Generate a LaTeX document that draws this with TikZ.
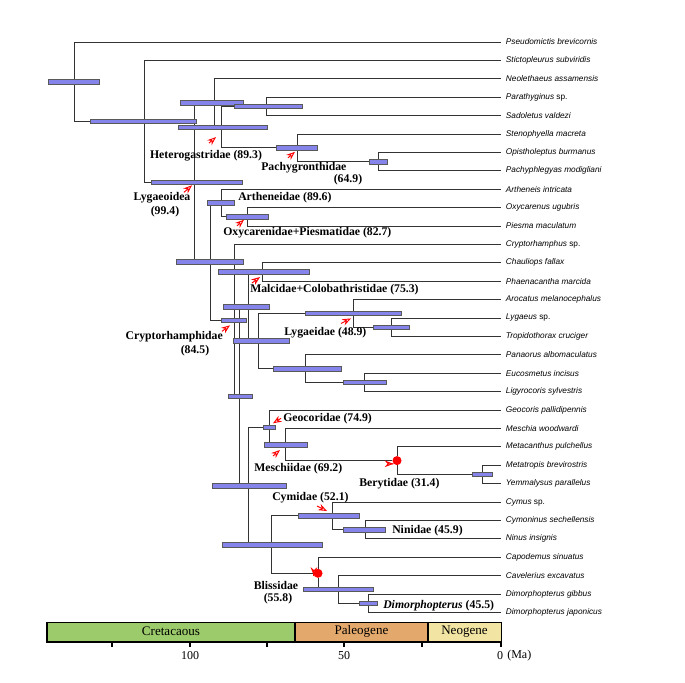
\documentclass[tikz,border=0pt]{standalone}
\usepackage{fontspec}
\setmainfont{Liberation Serif}
\setsansfont{Liberation Sans}
\usetikzlibrary{arrows.meta}

\definecolor{hpdblue}{RGB}{132,132,235}
\definecolor{cretgreen}{RGB}{155,203,106}
\definecolor{paleoorange}{RGB}{227,168,108}
\definecolor{neoyellow}{RGB}{242,229,163}

\tikzset{
  branch/.style={draw=black!80, line width=0.6pt},
  hpd/.style={fill=hpdblue, draw=black!65, line width=0.4pt},
  taxon/.style={anchor=west, inner xsep=3.5pt, inner ysep=0pt, font=\sffamily\itshape\fontsize{6.2}{7}\selectfont},
  clade/.style={inner sep=0pt, font=\bfseries\fontsize{8.8}{10}\selectfont},
  hmark/.style={red, line width=0.7pt, -{Stealth[open, length=6.5pt, width=5pt]}},
  reddot/.style={circle, fill=red, inner sep=0pt, minimum size=6.8pt},
  period/.style={draw=black, line width=0.6pt},
}
\newcommand{\hpdbar}[3]{\draw[hpd] (#1,#3-2.3) rectangle (#2,#3+2.3);}

\begin{document}
\begin{tikzpicture}[x=0.75pt, y=-0.75pt]
\useasboundingbox (0,0) rectangle (685,682);

\node [taxon] (pse) at (501,42) {Pseudomictis brevicornis};
\node [taxon] (sti) at (501,60.4) {Stictopleurus subviridis};
\node [taxon] (neo) at (501,78.8) {Neolethaeus assamensis};
\node [taxon] (par) at (501,97.2) {Parathyginus \upshape sp.};
\node [taxon] (sad) at (501,115.6) {Sadoletus valdezi};
\node [taxon] (ste) at (501,134) {Stenophyella macreta};
\node [taxon] (opi) at (501,152.4) {Opistholeptus burmanus};
\node [taxon] (pac) at (501,170.8) {Pachyphlegyas modigliani};
\node [taxon] (art) at (501,189.2) {Artheneis intricata};
\node [taxon] (oxy) at (501,207.6) {Oxycarenus ugubris};
\node [taxon] (pie) at (501,226) {Piesma maculatum};
\node [taxon] (cry) at (501,244.4) {Cryptorhamphus \upshape sp.};
\node [taxon] (cha) at (501,262.8) {Chauliops fallax};
\node [taxon] (pha) at (501,281.2) {Phaenacantha marcida};
\node [taxon] (aro) at (501,299.6) {Arocatus melanocephalus};
\node [taxon] (lyg) at (501,318) {Lygaeus \upshape sp.};
\node [taxon] (tro) at (501,336.4) {Tropidothorax cruciger};
\node [taxon] (pan) at (501,354.8) {Panaorus albomaculatus};
\node [taxon] (euc) at (501,373.2) {Eucosmetus incisus};
\node [taxon] (lig) at (501,391.6) {Ligyrocoris sylvestris};
\node [taxon] (geo) at (501,410) {Geocoris pallidipennis};
\node [taxon] (mes) at (501,428.4) {Meschia woodwardi};
\node [taxon] (met) at (501,446.8) {Metacanthus pulchellus};
\node [taxon] (mtr) at (501,465.2) {Metatropis brevirostris};
\node [taxon] (yem) at (501,483.6) {Yemmalysus parallelus};
\node [taxon] (cym) at (501,502) {Cymus \upshape sp.};
\node [taxon] (cyn) at (501,520.4) {Cymoninus sechellensis};
\node [taxon] (nin) at (501,538.8) {Ninus insignis};
\node [taxon] (cap) at (501,557.2) {Capodemus sinuatus};
\node [taxon] (cav) at (501,575.6) {Cavelerius excavatus};
\node [taxon] (dgi) at (501,594) {Dimorphopterus gibbus};
\node [taxon] (dja) at (501,612.4) {Dimorphopterus japonicus};

\coordinate (root) at (74,81.7);
\coordinate (n1) at (144,121.4);
\coordinate (lygaeoidea) at (194,182.3);
\coordinate (n2) at (214,103);
\coordinate (hetero) at (221,127.1);
\coordinate (n3) at (266,106.4);
\coordinate (pachy) at (297,147.8);
\coordinate (n4) at (378,161.6);
\coordinate (n5) at (210,261.7);
\coordinate (arthen) at (221,203);
\coordinate (oxypie) at (247,216.8);
\coordinate (crypto) at (234,320.3);
\coordinate (n6) at (239,396.2);
\coordinate (n7) at (248,306.5);
\coordinate (malcol) at (262,272);
\coordinate (n8) at (258,341);
\coordinate (lygae) at (353,313.4);
\coordinate (n9) at (391,327.2);
\coordinate (n10) at (305,368.6);
\coordinate (n11) at (364,382.4);
\coordinate (n12) at (248,486);
\coordinate (geocor) at (269,427.3);
\coordinate (meschi) at (285,444.5);
\coordinate (n13) at (482,474.4);
\coordinate (n14) at (271,544.6);
\coordinate (cymid) at (332,515.8);
\coordinate (ninid) at (365,529.6);
\coordinate (n15) at (338,589.4);
\coordinate (dimor) at (368,603.2);

\node [reddot] (beryt) at (397,460.6) {};
\node [reddot] (bliss) at (318,573.3) {};

\begin{scope}[branch]
\draw (root) |- (pse.west);
\draw (root) |- (n1);
\draw (n1) |- (sti.west);
\draw (n1) |- (lygaeoidea);
\draw (lygaeoidea) |- (n2);
\draw (lygaeoidea) |- (n5);
\draw (n2) |- (neo.west);
\draw (n2) |- (hetero);
\draw (hetero) |- (n3);
\draw (hetero) |- (pachy);
\draw (n3) |- (par.west);
\draw (n3) |- (sad.west);
\draw (pachy) |- (ste.west);
\draw (pachy) |- (n4);
\draw (n4) |- (opi.west);
\draw (n4) |- (pac.west);
\draw (n5) |- (arthen);
\draw (n5) |- (crypto);
\draw (arthen) |- (art.west);
\draw (arthen) |- (oxypie);
\draw (oxypie) |- (oxy.west);
\draw (oxypie) |- (pie.west);
\draw (crypto) |- (cry.west);
\draw (crypto) |- (n6);
\draw (n6) |- (n7);
\draw (n6) |- (n12);
\draw (n7) |- (malcol);
\draw (n7) |- (n8);
\draw (malcol) |- (cha.west);
\draw (malcol) |- (pha.west);
\draw (n8) |- (lygae);
\draw (n8) |- (n10);
\draw (lygae) |- (aro.west);
\draw (lygae) |- (n9);
\draw (n9) |- (lyg.west);
\draw (n9) |- (tro.west);
\draw (n10) |- (pan.west);
\draw (n10) |- (n11);
\draw (n11) |- (euc.west);
\draw (n11) |- (lig.west);
\draw (n12) |- (geocor);
\draw (n12) |- (n14);
\draw (geocor) |- (geo.west);
\draw (geocor) |- (meschi);
\draw (meschi) |- (mes.west);
\draw (meschi) |- (beryt);
\draw (beryt) |- (met.west);
\draw (beryt) |- (n13);
\draw (n13) |- (mtr.west);
\draw (n13) |- (yem.west);
\draw (n14) |- (cymid);
\draw (n14) |- (bliss);
\draw (cymid) |- (cym.west);
\draw (cymid) |- (ninid);
\draw (ninid) |- (cyn.west);
\draw (ninid) |- (nin.west);
\draw (bliss) |- (cap.west);
\draw (bliss) |- (n15);
\draw (n15) |- (cav.west);
\draw (n15) |- (dimor);
\draw (dimor) |- (dgi.west);
\draw (dimor) |- (dja.west);
\end{scope}

\hpdbar{48}{99}{81.7}
\hpdbar{90}{196}{121.4}
\hpdbar{151}{242}{182.3}
\hpdbar{180}{243}{103}
\hpdbar{178}{267}{127.1}
\hpdbar{234}{302}{106.4}
\hpdbar{276}{317}{147.8}
\hpdbar{369}{387}{161.6}
\hpdbar{176}{243}{261.7}
\hpdbar{207}{234}{203}
\hpdbar{226}{268}{216.8}
\hpdbar{221}{246}{320.3}
\hpdbar{228}{252}{396.2}
\hpdbar{223}{269}{306.5}
\hpdbar{218}{309}{272}
\hpdbar{233}{289}{341}
\hpdbar{305}{401}{313.4}
\hpdbar{373}{409}{327.2}
\hpdbar{273}{341}{368.6}
\hpdbar{343}{386}{382.4}
\hpdbar{212}{286}{486}
\hpdbar{263}{275}{427.3}
\hpdbar{264}{307}{444.5}
\hpdbar{472}{492}{474.4}
\hpdbar{222}{322}{544.6}
\hpdbar{298}{359}{515.8}
\hpdbar{343}{385}{529.6}
\hpdbar{303}{373}{589.4}
\hpdbar{359}{377}{603.2}

\draw [hmark] ([shift={(-12,16)}]hetero) -- ([shift={(-5,10)}]hetero);
\draw [hmark] ([shift={(-9,10)}]pachy) -- ([shift={(-2,4)}]pachy);
\draw [hmark] ([shift={(-10,10)}]lygaeoidea) -- ([shift={(-2,3)}]lygaeoidea);
\draw [hmark] ([shift={(-10,9)}]oxypie) -- ([shift={(-3,3)}]oxypie);
\draw [hmark] ([shift={(-10,11)}]malcol) -- ([shift={(-2,5)}]malcol);
\draw [hmark] ([shift={(-12,11)}]crypto) -- ([shift={(-4,5)}]crypto);
\draw [hmark] ([shift={(-12,10)}]lygae) -- ([shift={(-2,5)}]lygae);
\draw [hmark] ([shift={(12,-9)}]geocor) -- ([shift={(4,-4)}]geocor);
\draw [hmark] ([shift={(-12,11.5)}]meschi) -- ([shift={(-5,5.5)}]meschi);
\draw [hmark] ([shift={(-14,12.5)}]beryt) -- ([shift={(-7,6.5)}]beryt);
\draw [hmark] ([shift={(-15,-9.8)}]cymid) -- ([shift={(-5,-4.8)}]cymid);
\draw [hmark] ([shift={(-17,10.7)}]bliss) -- ([shift={(-8,5.7)}]bliss);

\node [clade] (lblhetero) at (206,156) {Heterogastridae (89.3)};
\node [clade, anchor=west] (lblpachy) at (261,168) {Pachygronthidae};
\node [clade] (agepachy) at (348,179.5) {(64.9)};
\node [clade] (lbllygaeo) at (162,198) {Lygaeoidea};
\node [clade] (agelygaeo) at (165,212) {(99.4)};
\node [clade, anchor=west] (lblarthen) at (238,198) {Artheneidae (89.6)};
\node [clade, anchor=west] (lbloxypie) at (223,233) {Oxycarenidae+Piesmatidae (82.7)};
\node [clade, anchor=west] (lblmalcol) at (250,290) {Malcidae+Colobathristidae (75.3)};
\node [clade, anchor=east] (lblcrypto) at (223,337) {Cryptorhamphidae};
\node [clade] (agecrypto) at (195,351) {(84.5)};
\node [clade, anchor=west] (lbllygae) at (284,333) {Lygaeidae (48.9)};
\node [clade, anchor=west] (lblgeocor) at (283,419) {Geocoridae (74.9)};
\node [clade, anchor=west] (lblmeschi) at (254,469) {Meschiidae (69.2)};
\node [clade, anchor=west] (lblberyt) at (359,484) {Berytidae (31.4)};
\node [clade, anchor=west] (lblcymid) at (272,498) {Cymidae (52.1)};
\node [clade, anchor=west] (lblninid) at (392,531) {Ninidae (45.9)};
\node [clade] (lblbliss) at (276,585) {Blissidae};
\node [clade] (agebliss) at (278,598.5) {(55.8)};
\node [clade, anchor=west] (lbldimor) at (383,606) {\textit{Dimorphopterus} (45.5)};

\draw [period, fill=cretgreen] (47,622) rectangle (295,641) node [midway, font=\fontsize{9.8}{11}\selectfont] (cret) {Cretacaous};
\draw [period, fill=paleoorange] (295,622) rectangle (428,641) node [midway, font=\fontsize{9.8}{11}\selectfont] (paleo) {Paleogene};
\draw [period, fill=neoyellow] (428,622) rectangle (501,641) node [midway, font=\fontsize{9.8}{11}\selectfont] (neog) {Neogene};
\draw [line width=1.4pt] (47,622) -- (47,642);
\draw [line width=1.4pt] (295,622) -- (295,641);
\draw [line width=1.4pt] (428,622) -- (428,641);
\draw [line width=1.8pt] (46,642) -- (502,642);
\draw [line width=1.4pt] (112,642) -- (112,647) (190,642) -- (190,647) (267,642) -- (267,647)
  (344,642) -- (344,647) (422,642) -- (422,647) (501,642) -- (501,647);
\node [font=\fontsize{9}{10}\selectfont] (t100) at (190,656) {100};
\node [font=\fontsize{9}{10}\selectfont] (t50) at (344,656) {50};
\node [font=\fontsize{9}{10}\selectfont] (t0) at (500,656) {0};
\node [anchor=west, inner sep=0pt, font=\fontsize{9}{10}\selectfont] (ma) at (507,656) {(Ma)};
\end{tikzpicture}
\end{document}
